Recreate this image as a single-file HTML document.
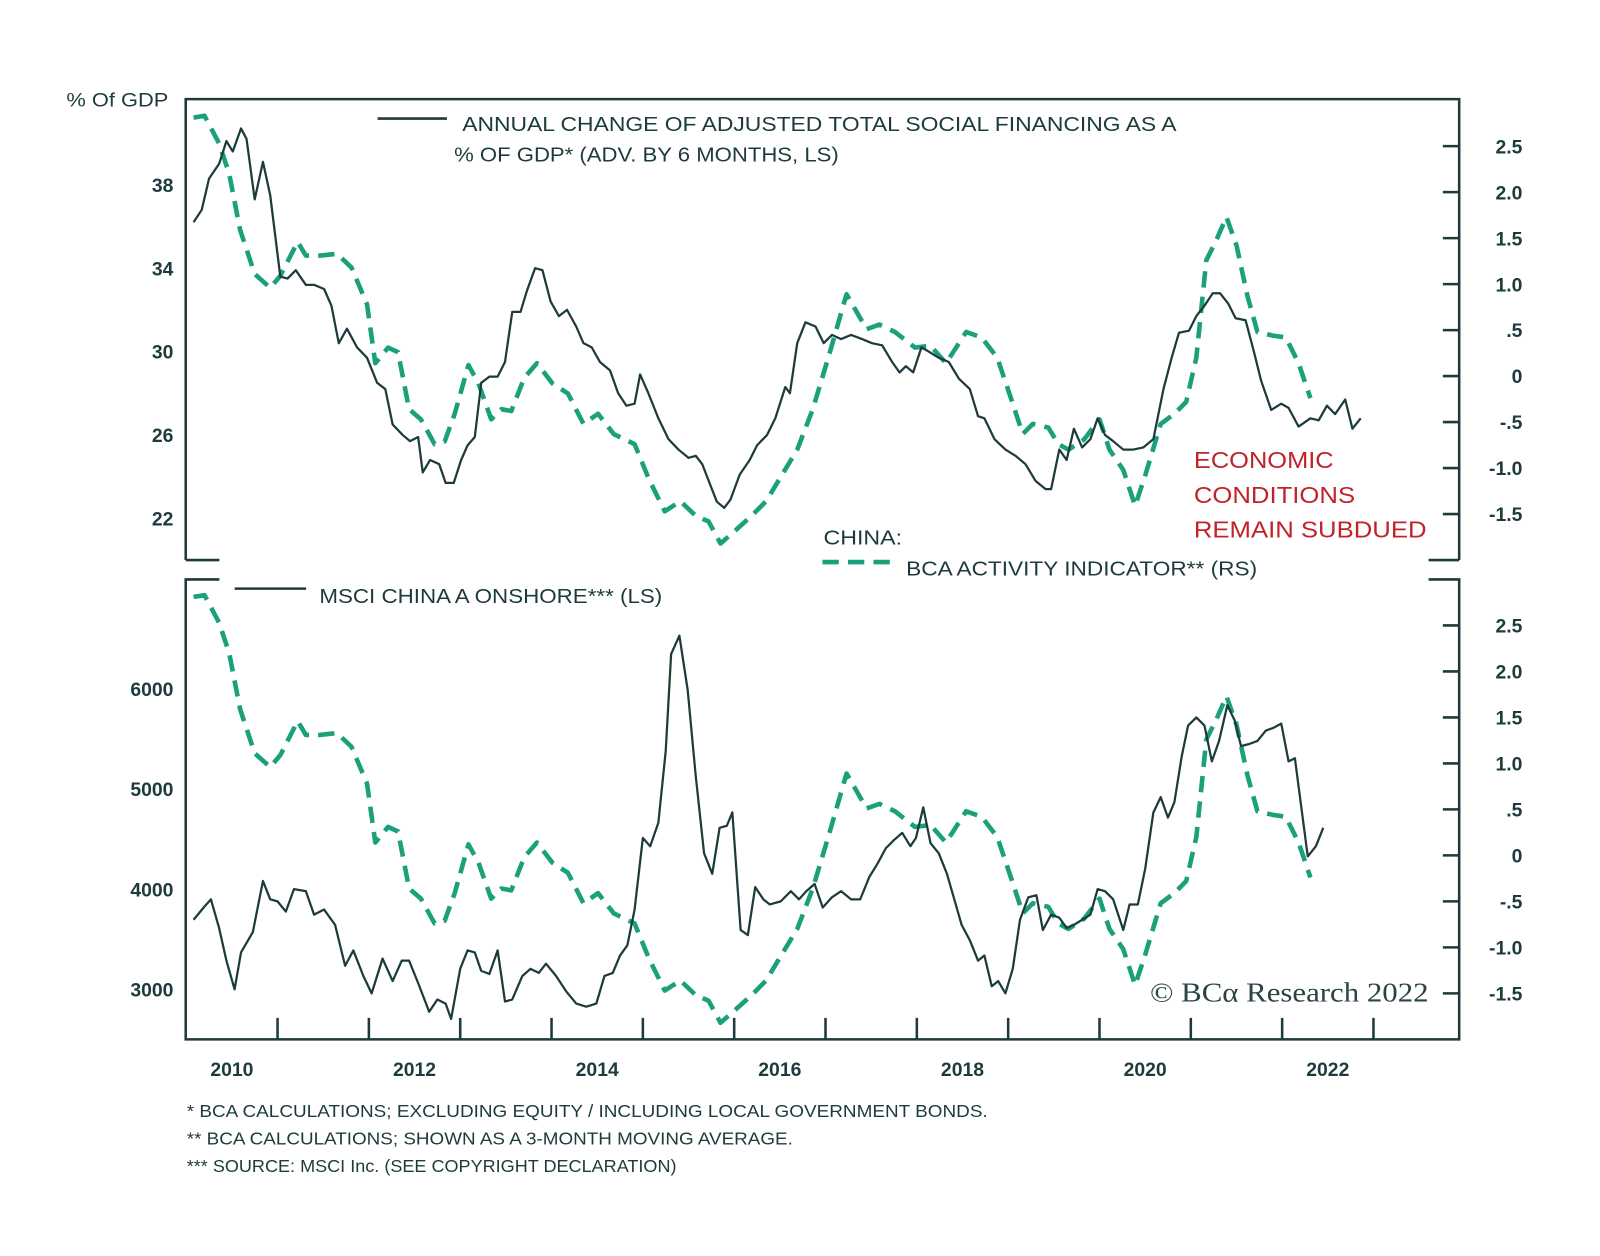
<!DOCTYPE html>
<html><head><meta charset="utf-8">
<style>
html,body{margin:0;padding:0;background:#fff;}
svg{display:block;}
text{font-family:"Liberation Sans",sans-serif;fill:#1d3b3d;}
</style></head>
<body>
<svg id="chart" width="1600" height="1256" viewBox="0 0 1568 1229" preserveAspectRatio="none" xmlns="http://www.w3.org/2000/svg">
<rect width="1568" height="1229" fill="#fff"/>
<g id="frames"></g>
<g id="axes"></g>
<g id="series"></g>

<text x="65" y="104" font-size="19" textLength="100" lengthAdjust="spacingAndGlyphs">% Of GDP</text>

<line x1="370" y1="116" x2="438" y2="116" stroke="#1d3b3d" stroke-width="2.5"/>
<text x="453" y="128" font-size="20" textLength="700" lengthAdjust="spacingAndGlyphs">ANNUAL CHANGE OF ADJUSTED TOTAL SOCIAL FINANCING AS A</text>
<text x="445" y="158" font-size="20" textLength="377" lengthAdjust="spacingAndGlyphs">% OF GDP* (ADV. BY 6 MONTHS, LS)</text>

<text x="807" y="533" font-size="20" textLength="77" lengthAdjust="spacingAndGlyphs">CHINA:</text>
<line x1="806" y1="550" x2="878" y2="550" stroke="#1aa07a" stroke-width="4.5" stroke-dasharray="16 9"/>
<text x="888" y="563" font-size="20" textLength="344" lengthAdjust="spacingAndGlyphs">BCA ACTIVITY INDICATOR** (RS)</text>

<text x="1170" y="458" font-size="23" style="fill:#c0232a" textLength="137" lengthAdjust="spacingAndGlyphs">ECONOMIC</text>
<text x="1170" y="492" font-size="23" style="fill:#c0232a" textLength="158" lengthAdjust="spacingAndGlyphs">CONDITIONS</text>
<text x="1170" y="526" font-size="23" style="fill:#c0232a" textLength="228" lengthAdjust="spacingAndGlyphs">REMAIN SUBDUED</text>

<line x1="230" y1="576" x2="300" y2="576" stroke="#1d3b3d" stroke-width="2.5"/>
<text x="313" y="590" font-size="20" textLength="336" lengthAdjust="spacingAndGlyphs">MSCI CHINA A ONSHORE*** (LS)</text>

<text x="1127" y="980" font-size="27" style="font-family:'Liberation Serif',serif;fill:#2a4446" textLength="273" lengthAdjust="spacingAndGlyphs">© BCα Research 2022</text>

<text x="183" y="1093" font-size="17" textLength="785" lengthAdjust="spacingAndGlyphs">*  BCA CALCULATIONS; EXCLUDING EQUITY / INCLUDING LOCAL GOVERNMENT BONDS.</text>
<text x="183" y="1120" font-size="17" textLength="594" lengthAdjust="spacingAndGlyphs">**  BCA CALCULATIONS; SHOWN AS A 3-MONTH MOVING AVERAGE.</text>
<text x="183" y="1147" font-size="17" textLength="480" lengthAdjust="spacingAndGlyphs">*** SOURCE: MSCI Inc. (SEE COPYRIGHT DECLARATION)</text>
</svg>
<script>
// ---- data ----
const actDates = [2010.08,2010.20,2010.36,2010.47,2010.59,2010.75,2010.92,2011.03,2011.22,2011.31,2011.47,2011.65,2011.81,2011.98,2012.07,2012.21,2012.32,2012.44,2012.57,2012.72,2012.83,2012.94,2013.09,2013.20,2013.34,2013.45,2013.56,2013.70,2013.84,2014.01,2014.18,2014.35,2014.51,2014.68,2014.91,2015.07,2015.24,2015.41,2015.58,2015.72,2015.85,2016.00,2016.19,2016.35,2016.52,2016.69,2016.86,2017.03,2017.23,2017.34,2017.45,2017.59,2017.76,2017.98,2018.15,2018.32,2018.54,2018.71,2018.88,2019.03,2019.16,2019.27,2019.44,2019.55,2019.66,2019.83,2020.00,2020.11,2020.26,2020.39,2020.50,2020.67,2020.82,2020.95,2021.06,2021.17,2021.28,2021.39,2021.50,2021.62,2021.73,2021.90,2022.04,2022.18,2022.31];
const actValues = [2.81,2.83,2.53,2.2,1.59,1.11,0.96,1.09,1.46,1.31,1.31,1.33,1.18,0.78,0.14,0.31,0.26,-0.36,-0.47,-0.74,-0.71,-0.41,0.12,-0.08,-0.47,-0.36,-0.38,-0.02,0.14,-0.08,-0.19,-0.52,-0.41,-0.63,-0.74,-1.13,-1.47,-1.36,-1.52,-1.58,-1.82,-1.69,-1.52,-1.36,-1.08,-0.8,-0.36,0.2,0.89,0.7,0.51,0.56,0.48,0.31,0.33,0.14,0.48,0.42,0.2,-0.24,-0.63,-0.52,-0.56,-0.74,-0.8,-0.69,-0.47,-0.8,-1.02,-1.41,-1.08,-0.52,-0.41,-0.28,0.2,1.26,1.48,1.73,1.42,0.87,0.48,0.44,0.42,0.14,-0.24];

const tsfDates = [2010.08,2010.17,2010.25,2010.36,2010.44,2010.51,2010.60,2010.66,2010.75,2010.84,2010.92,2011.03,2011.11,2011.20,2011.31,2011.40,2011.51,2011.59,2011.67,2011.76,2011.87,2011.98,2012.09,2012.18,2012.26,2012.37,2012.45,2012.54,2012.59,2012.67,2012.77,2012.84,2012.93,2013.01,2013.08,2013.16,2013.23,2013.32,2013.41,2013.49,2013.57,2013.66,2013.73,2013.82,2013.90,2013.99,2014.08,2014.17,2014.27,2014.35,2014.44,2014.53,2014.64,2014.73,2014.82,2014.91,2014.97,2015.06,2015.17,2015.28,2015.39,2015.50,2015.58,2015.65,2015.73,2015.81,2015.89,2015.96,2016.06,2016.17,2016.25,2016.36,2016.45,2016.56,2016.61,2016.69,2016.78,2016.89,2016.98,2017.07,2017.17,2017.28,2017.40,2017.51,2017.62,2017.73,2017.81,2017.88,2017.96,2018.05,2018.13,2018.24,2018.35,2018.46,2018.58,2018.67,2018.74,2018.85,2018.97,2019.08,2019.19,2019.30,2019.41,2019.47,2019.56,2019.64,2019.72,2019.81,2019.90,2019.98,2020.06,2020.15,2020.26,2020.37,2020.48,2020.59,2020.70,2020.79,2020.87,2020.98,2021.06,2021.15,2021.24,2021.32,2021.41,2021.49,2021.60,2021.69,2021.77,2021.88,2021.99,2022.07,2022.18,2022.31,2022.40,2022.49,2022.58,2022.69,2022.77,2022.86];
const tsfValues = [36.2,36.8,38.3,39.0,40.1,39.6,40.7,40.2,37.3,39.1,37.5,33.6,33.5,33.9,33.2,33.2,33.0,32.2,30.4,31.1,30.2,29.7,28.5,28.2,26.5,26.0,25.7,25.9,24.2,24.8,24.6,23.7,23.7,24.8,25.5,25.9,28.5,28.8,28.8,29.5,31.9,31.9,32.9,34.0,33.9,32.4,31.7,32.0,31.2,30.4,30.2,29.5,29.1,28.0,27.4,27.5,28.9,28.0,26.8,25.8,25.3,24.9,25.0,24.6,23.7,22.8,22.5,22.9,24.1,24.8,25.5,26.0,26.8,28.3,28.0,30.4,31.4,31.2,30.4,30.8,30.6,30.8,30.6,30.4,30.3,29.5,29.0,29.3,29.0,30.2,30.0,29.7,29.5,28.7,28.2,26.9,26.8,25.8,25.3,25.0,24.6,23.8,23.4,23.4,25.3,24.8,26.3,25.4,25.8,26.8,26.0,25.7,25.3,25.3,25.4,25.8,28.2,29.7,30.9,31.0,31.7,32.2,32.8,32.8,32.3,31.6,31.5,30.0,28.6,27.2,27.5,27.3,26.4,26.8,26.7,27.4,27.0,27.7,26.3,26.8];

const msciDates = [2010.08,2010.20,2010.27,2010.36,2010.44,2010.53,2010.60,2010.73,2010.84,2010.92,2011.00,2011.09,2011.18,2011.31,2011.40,2011.51,2011.63,2011.74,2011.83,2011.94,2012.03,2012.15,2012.26,2012.36,2012.44,2012.54,2012.66,2012.75,2012.84,2012.90,2013.00,2013.08,2013.16,2013.23,2013.32,2013.41,2013.49,2013.57,2013.68,2013.77,2013.86,2013.94,2014.05,2014.16,2014.27,2014.38,2014.49,2014.58,2014.67,2014.75,2014.83,2014.91,2015.00,2015.08,2015.17,2015.25,2015.31,2015.40,2015.49,2015.58,2015.67,2015.76,2015.84,2015.92,2015.98,2016.07,2016.15,2016.23,2016.32,2016.39,2016.51,2016.62,2016.71,2016.79,2016.88,2016.97,2017.07,2017.17,2017.28,2017.38,2017.48,2017.57,2017.66,2017.75,2017.84,2017.93,2017.99,2018.07,2018.15,2018.24,2018.33,2018.41,2018.49,2018.58,2018.67,2018.74,2018.82,2018.89,2018.97,2019.05,2019.13,2019.22,2019.31,2019.38,2019.47,2019.56,2019.64,2019.72,2019.81,2019.90,2019.98,2020.06,2020.15,2020.26,2020.33,2020.42,2020.50,2020.59,2020.67,2020.75,2020.82,2020.90,2020.97,2021.06,2021.15,2021.23,2021.31,2021.40,2021.48,2021.55,2021.64,2021.73,2021.82,2021.91,2021.99,2022.07,2022.14,2022.21,2022.28,2022.37,2022.45];
const msciValues = [3694,3827,3898,3612,3286,3000,3367,3571,4082,3898,3878,3776,4000,3980,3745,3796,3643,3235,3388,3133,2959,3306,3082,3286,3286,3061,2776,2898,2857,2704,3204,3388,3367,3184,3153,3388,2878,2898,3133,3204,3163,3255,3133,2980,2857,2827,2857,3133,3163,3337,3439,3796,4510,4429,4663,5378,6347,6531,5990,5122,4357,4153,4612,4633,4765,3592,3541,4020,3898,3847,3878,3980,3898,3980,4051,3816,3918,3980,3898,3898,4122,4255,4408,4490,4561,4429,4510,4816,4459,4357,4153,3898,3643,3490,3286,3337,3031,3082,2959,3204,3694,3918,3939,3592,3745,3714,3612,3643,3694,3745,4000,3980,3898,3592,3847,3847,4204,4765,4918,4714,4867,5327,5633,5714,5633,5276,5480,5837,5684,5429,5449,5480,5582,5612,5653,5276,5306,4816,4327,4429,4612];

const yearLabels = ["2010","2012","2014","2016","2018","2020","2022"];
const topLeftTicks = [22,26,30,34,38];
const bottomLeftTicks = [3000,4000,5000,6000];
const rightTicks = [-1.5,-1.0,-0.5,0,0.5,1.0,1.5,2.0,2.5];
const rightTickLabels = ["-1.5","-1.0","-.5","0",".5","1.0","1.5","2.0","2.5"];

// ---- scales ----
const X0 = 182.5, X1 = 1430, PX_PER_YEAR = 89.5;
const x = t => X0 + (t - 2010) * PX_PER_YEAR;
const yTopL = v => 344 - (v - 30) * 20.4;
const yTopR = v => 368 - v * 90;
const yBotL = v => 870 - (v - 4000) * 0.098;
const yBotR = v => 837 - v * 90;

const NS = "http://www.w3.org/2000/svg";
const INK = "#1d3b3d", GREEN = "#1aa07a";
function mk(tag, attrs, parent){ const e=document.createElementNS(NS,tag); for(const k in attrs) e.setAttribute(k,attrs[k]); parent.appendChild(e); return e; }

const frames = document.getElementById('frames');
const axes = document.getElementById('axes');
const series = document.getElementById('series');

const fr = [
 ["M182,548 L182,97 L1430,97 L1430,548 M182,548 L215,548 M1400,548 L1430,548","top-panel-frame"],
 ["M215,567 L182,567 L182,1017 L1430,1017 L1430,567 L1400,567","bottom-panel-frame"]
];
fr.forEach(f=>{
  const p = mk('path',{d:f[0],fill:'none',stroke:INK,'stroke-width':2.5},frames);
  
  
});

function leftLabels(ticks, yf, panel){
  ticks.forEach(v=>{
    const t = mk('text',{x:170,y:yf(v)+7,'font-size':19,'font-weight':'bold','text-anchor':'end'},axes);
    t.textContent = String(v);
    
    
  });
}
leftLabels(topLeftTicks, yTopL, 'top');
leftLabels(bottomLeftTicks, yBotL, 'bottom');

function rightAxis(yf, panel){
  rightTicks.forEach((v,i)=>{
    const l = mk('line',{x1:1414,x2:1430,y1:yf(v),y2:yf(v),stroke:INK,'stroke-width':2.5},axes);
    
    
    const t = mk('text',{x:1492,y:yf(v)+7,'font-size':19,'font-weight':'bold','text-anchor':'end'},axes);
    t.textContent = rightTickLabels[i];
    
    
  });
}
rightAxis(yTopR,'top');
rightAxis(yBotR,'bottom');

for(let yr=2011; yr<=2023; yr++){
  const l = mk('line',{x1:x(yr),x2:x(yr),y1:996,y2:1017,stroke:INK,'stroke-width':2.5},axes);
  
  
}
yearLabels.forEach(s=>{
  const t = mk('text',{x:x(+s+0.5),y:1053,'font-size':19,'font-weight':'bold','text-anchor':'middle'},axes);
  t.textContent = s;
  
  
});

function line(dates, vals, yf, style, name){
  const d = dates.map((t,i)=>(i?'L':'M')+x(t).toFixed(1)+','+yf(vals[i]).toFixed(1)).join(' ');
  const p = mk('path',Object.assign({d:d,fill:'none','stroke-linejoin':'round'},style),series);
  
  
}
const dashed = {stroke:GREEN,'stroke-width':4.5,'stroke-dasharray':'16 9'};
const solid = {stroke:INK,'stroke-width':2.2};
line(actDates, actValues, yTopR, dashed, 'top-activity-indicator-line');
line(tsfDates, tsfValues, yTopL, solid, 'tsf-line');
line(actDates, actValues, yBotR, dashed, 'bottom-activity-indicator-line');
line(msciDates, msciValues, yBotL, solid, 'msci-line');
</script>
</body></html>
